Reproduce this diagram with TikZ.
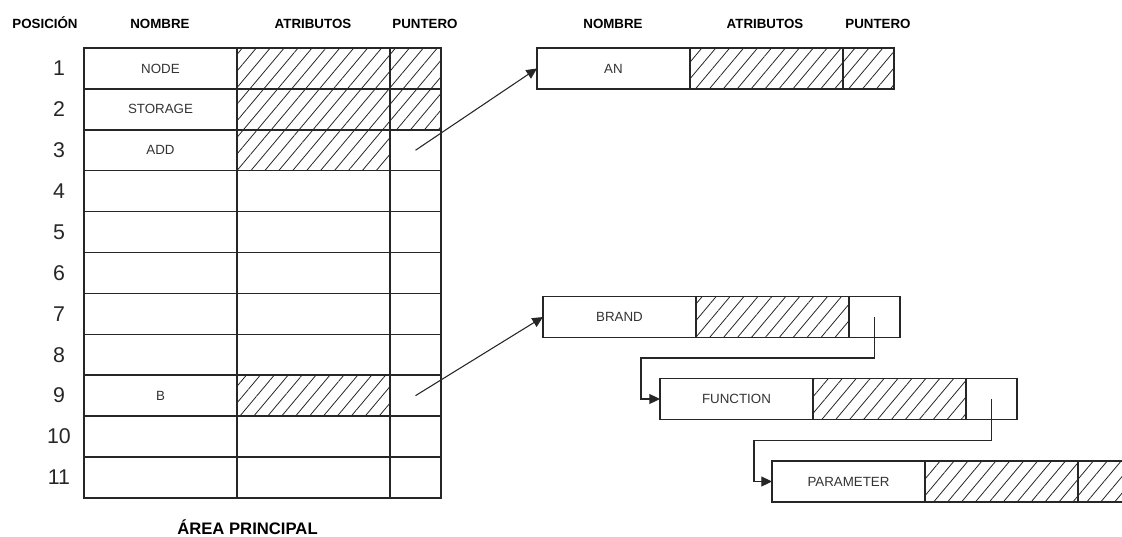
\documentclass[tikz,border=0pt]{standalone}
\usepackage{fontspec}
\setmainfont{Liberation Sans}
\usetikzlibrary{patterns.meta,arrows.meta}

\tikzset{
  rayado/.style={pattern={Lines[angle=50,distance=8pt,line width=0.6pt]},pattern color=black!85},
  campo/.style={draw=black!85,line width=1.1pt,minimum width=114.75pt,minimum height=30.75pt,inner sep=0pt,outer sep=0pt,text=black!80,font=\fontsize{10}{12}\selectfont},
  puntero/.style={campo,minimum width=38.25pt},
  texto/.style={inner sep=0.75pt,text=black!80,font=\fontsize{10}{12}\selectfont},
  titulo/.style={inner sep=0.75pt,anchor=base,font=\bfseries\fontsize{10}{12}\selectfont},
  numero/.style={inner sep=0.75pt,text=black!85,font=\fontsize{16}{18}\selectfont},
  enlace/.style={draw=black!85,line width=0.8pt,-{Triangle[length=8pt,width=7.5pt]}},
}

\begin{document}
\begin{tikzpicture}[x=0.75pt,y=0.75pt,yscale=-1,xscale=1]
%set diagram size 1122 x 536
\clip (0,0) rectangle (1122,536);

%Shape: hatched fields of the main area
\fill[rayado] (237,48) rectangle (441,129.8);
\fill[rayado] (237,129.8) rectangle (390,170.7);
\fill[rayado] (237,375.2) rectangle (390,416.1);

%Shape: Grid [main area]
\draw[draw=black!85,line width=1.1pt] (84,48) rectangle (441,497.9)
  (237,48) -- (237,497.9) (390,48) -- (390,497.9)
  (84,88.9) -- (441,88.9) (84,129.8) -- (441,129.8)
  (84,170.7) -- (441,170.7) (84,211.6) -- (441,211.6)
  (84,252.5) -- (441,252.5) (84,293.4) -- (441,293.4)
  (84,334.3) -- (441,334.3) (84,375.2) -- (441,375.2)
  (84,416.1) -- (441,416.1) (84,457) -- (441,457) ;

% Text Node
\node[titulo] (hpos) at (45,28) {POSICIÓN};
% Text Node
\node[titulo] (hnom) at (160,28) {NOMBRE};
% Text Node
\node[titulo] (hatr) at (313,28) {ATRIBUTOS};
% Text Node
\node[titulo] (hpun) at (425,28) {PUNTERO};
% Text Node
\node[titulo] (hnom2) at (613,28) {NOMBRE};
% Text Node
\node[titulo] (hatr2) at (765,28) {ATRIBUTOS};
% Text Node
\node[titulo] (hpun2) at (878,28) {PUNTERO};

% Text Node: positions
\node[numero] (n1) at (59,68.45) {1};
\node[numero] (n2) at (59,109.35) {2};
\node[numero] (n3) at (59,150.25) {3};
\node[numero] (n4) at (59,191.15) {4};
\node[numero] (n5) at (59,232.05) {5};
\node[numero] (n6) at (59,272.95) {6};
\node[numero] (n7) at (59,313.85) {7};
\node[numero] (n8) at (59,354.75) {8};
\node[numero] (n9) at (59,395.65) {9};
\node[numero] (n10) at (59,436.55) {10};
\node[numero] (n11) at (59,477.45) {11};

% Text Node: names
\node[texto] (node) at (160.5,68.45) {NODE};
\node[texto] (storage) at (160.5,109.35) {STORAGE};
\node[texto] (add) at (160.5,150.25) {ADD};
\node[texto] (b) at (160.5,395.65) {B};

% Text Node
\node[titulo,font=\bfseries\fontsize{12.5}{14}\selectfont] (area) at (247.5,534.5) {ÁREA PRINCIPAL};

%Shape: record AN
\node[campo] (an) at (613.5,68.45) {AN};
\node[campo,rayado,anchor=west] (anatr) at (an.east) {};
\node[puntero,rayado,anchor=west] (anptr) at (anatr.east) {};

%Shape: record BRAND
\node[campo] (brand) at (619.5,317) {BRAND};
\node[campo,rayado,anchor=west] (brandatr) at (brand.east) {};
\node[puntero,anchor=west] (brandptr) at (brandatr.east) {};

%Shape: record FUNCTION
\node[campo] (function) at (736.5,399) {FUNCTION};
\node[campo,rayado,anchor=west] (functionatr) at (function.east) {};
\node[puntero,anchor=west] (functionptr) at (functionatr.east) {};

%Shape: record PARAMETER
\node[campo] (parameter) at (848.5,481.5) {PARAMETER};
\node[campo,rayado,anchor=west] (parameteratr) at (parameter.east) {};
\node[campo,rayado,anchor=west] (parameterptr) at (parameteratr.east) {};

%Straight Lines: pointers
\coordinate (p3) at (415.5,150.25);
\coordinate (p9) at (415.5,395.65);
\coordinate (q1) at (641,358);
\coordinate (q2) at (754,440.5);
\draw[enlace] (p3) -- (an.west);
\draw[enlace] (p9) -- (brand.west);
\draw[enlace] (brandptr.center) |- (q1) |- (function.west);
\draw[enlace] (functionptr.center) |- (q2) |- (parameter.west);

\end{tikzpicture}
\end{document}
